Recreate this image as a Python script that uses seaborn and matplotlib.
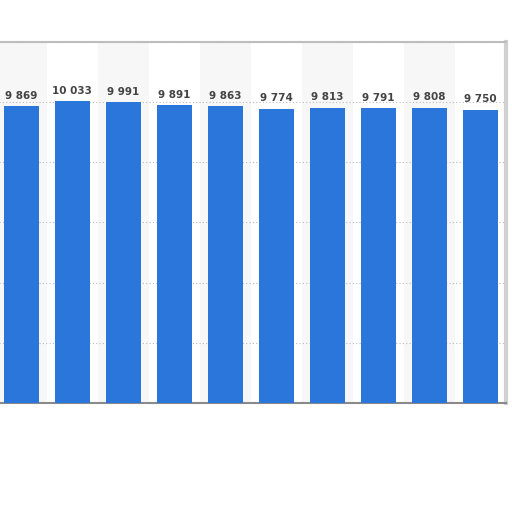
import matplotlib
matplotlib.use("Agg")
import matplotlib.pyplot as plt
import seaborn as sns
import pandas as pd

# values (x labels are cropped away in the source)
periods = ["P1", "P2", "P3", "P4", "P5", "P6", "P7", "P8", "P9", "P10"]
values = [9869, 10033, 9991, 9891, 9863, 9774, 9813, 9791, 9808, 9750]

BAR_COLOR = "#2A76DA"

sns.set_theme(style="white")
plt.rcParams["font.family"] = ["DejaVu Sans"]

df = pd.DataFrame({"period": periods, "value": values})

fig = plt.figure(figsize=(5.12, 5.12), dpi=100)
ax = fig.add_axes([-0.008, 0.213, 0.996, 0.705])

# alternating column shading behind the bars
for i in range(len(periods)):
    if i % 2 == 0:
        ax.axvspan(i - 0.5, i + 0.5, color="#F7F7F7", zorder=0, lw=0)

sns.barplot(data=df, x="period", y="value", color=BAR_COLOR,
            saturation=1, width=0.69, linewidth=0, ax=ax, zorder=3)

ax.set_xlim(-0.5, len(periods) - 0.5)
ax.set_ylim(0, 12000)
ax.set_yticks(range(0, 12001, 2000))
ax.yaxis.grid(True, linestyle=(0, (1, 2)), color="#BBBBBB", lw=0.8, zorder=1)
ax.set_axisbelow(True)

ax.set_xlabel("")
ax.set_ylabel("")
ax.set_xticks([])
ax.set_yticklabels([])
ax.tick_params(left=False, bottom=False)

for container in ax.containers:
    labels = [f"{int(round(v)):,}".replace(",", " ") for v in container.datavalues]
    ax.bar_label(container, labels=labels, padding=4, fontsize=7.5,
                 fontweight="bold", color="#444444")

ax.spines["left"].set_visible(False)
ax.spines["top"].set_color("#BDBDBD")
ax.spines["top"].set_linewidth(1.5)
ax.spines["right"].set_color("#D0D0D0")
ax.spines["right"].set_linewidth(3)
ax.spines["bottom"].set_color("#8A8A8A")
ax.spines["bottom"].set_linewidth(1.5)

fig.savefig("out.png", dpi=100, facecolor="white")
